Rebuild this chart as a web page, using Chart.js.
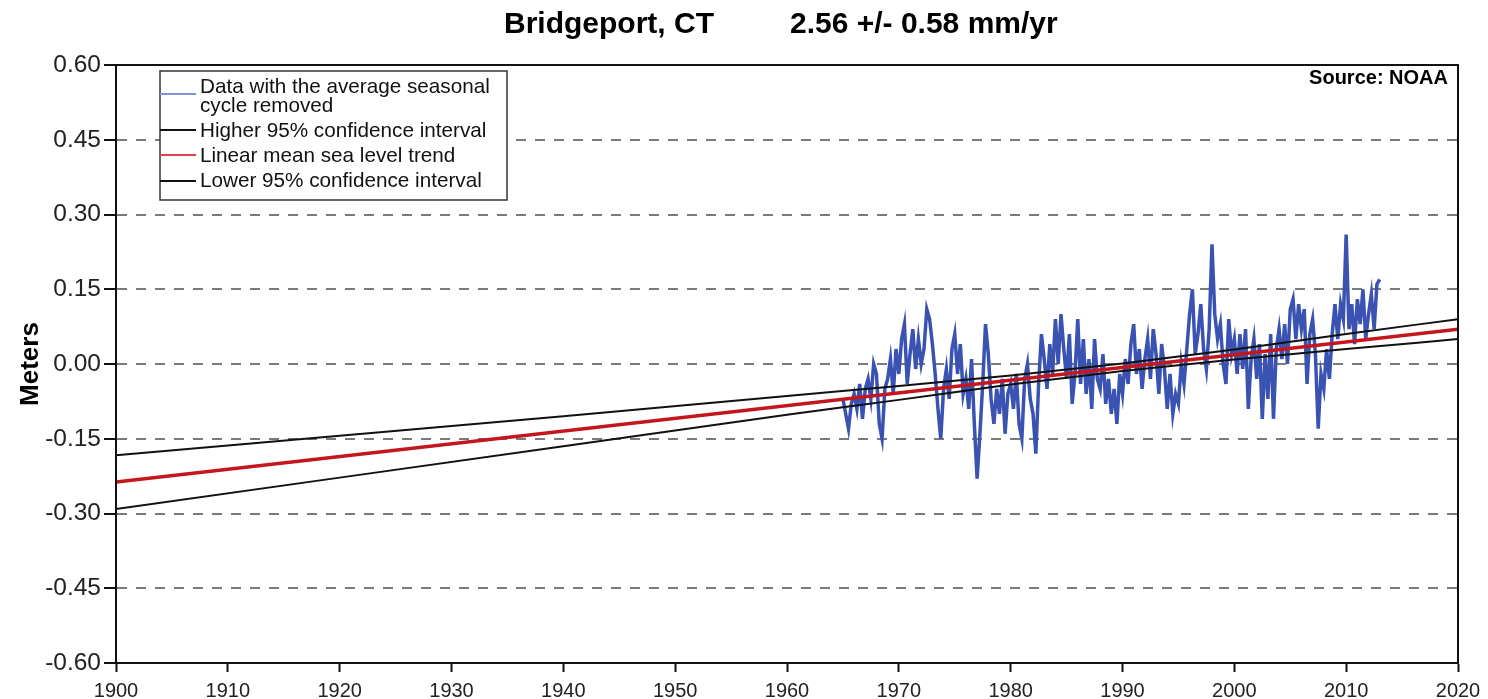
<!DOCTYPE html>
<html>
<head>
<meta charset="utf-8">
<script src="https://cdn.jsdelivr.net/npm/chart.js@4/dist/chart.umd.min.js"></script>
<style>
  html, body { margin: 0; padding: 0; background: #fff; }
  #chart { display: block; }
</style>
</head>
<body>
<canvas id="chart" width="1488" height="699"></canvas>
<script>
// monthly record thinned to quarterly readings, seasonal cycle removed (m)
const startYear = 1965;
const stepYear = 0.25;
const seaLevel = [
  -0.07, -0.10, -0.13, -0.08,   // 1965
  -0.06, -0.09, -0.04, -0.11,
  -0.05, -0.03, -0.07, 0.00,
  -0.02, -0.12, -0.15, -0.05,
  -0.03, 0.01, -0.06, 0.03,
  -0.02, 0.05, 0.08, -0.04,     // 1970
  0.02, 0.07, -0.01, 0.05,
  0.00, 0.03, 0.11, 0.09,
  0.04, -0.02, -0.09, -0.15,
  -0.05, -0.01, -0.07, 0.03,
  0.06, -0.02, 0.04, -0.06,     // 1975
  -0.03, -0.09, 0.01, -0.12,
  -0.23, -0.14, -0.04, 0.08,
  0.02, -0.07, -0.12, -0.05,
  -0.10, -0.03, -0.14, -0.06,
  -0.04, -0.09, -0.02, -0.12,   // 1980
  -0.15, -0.03, 0.00, -0.07,
  -0.10, -0.18, -0.04, 0.06,
  0.01, -0.05, 0.04, -0.02,
  0.09, 0.00, 0.10, 0.03,
  -0.03, 0.06, -0.08, -0.02,    // 1985
  0.09, -0.04, 0.05, -0.06,
  0.01, -0.09, 0.05, -0.03,
  -0.05, 0.02, -0.08, -0.03,
  -0.10, -0.05, -0.12, -0.02,
  -0.06, 0.01, -0.04, 0.04,     // 1990
  0.08, -0.02, 0.03, -0.05,
  0.01, 0.05, -0.03, 0.07,
  0.02, -0.06, 0.04, -0.01,
  -0.09, -0.02, -0.10, -0.06,
  -0.08, 0.00, -0.04, 0.03,     // 1995
  0.10, 0.15, 0.02, 0.06,
  0.12, 0.03, -0.01, 0.07,
  0.24, 0.10, 0.05, 0.08,
  0.00, -0.04, 0.09, 0.02,
  0.05, -0.02, 0.06, -0.01,     // 2000
  0.07, -0.09, 0.01, 0.05,
  -0.03, 0.04, -0.11, 0.02,
  -0.07, 0.06, -0.11, 0.03,
  0.07, 0.01, 0.08, 0.00,
  0.11, 0.13, 0.05, 0.12,       // 2005
  0.07, 0.11, -0.04, 0.06,
  0.09, 0.02, -0.13, -0.02,
  -0.05, 0.03, -0.03, 0.06,
  0.12, 0.05, 0.12, 0.09,
  0.26, 0.07, 0.12, 0.04,       // 2010
  0.13, 0.08, 0.15, 0.05,
  0.10, 0.14, 0.07, 0.16,
  0.17
];

const trendYears = [1900, 2020];
const trendMean = [-0.237, 0.070];

const ciYears = [1900, 1920, 1940, 1960, 1970, 1980, 1990, 2000, 2010, 2020];
const ciHigh = [-0.183, -0.144, -0.105, -0.064, -0.044, -0.023, 0.001, 0.029, 0.060, 0.090];
const ciLow = [-0.291, -0.228, -0.165, -0.102, -0.072, -0.041, -0.014, 0.009, 0.030, 0.050];

const xTicks = { min: 1900, max: 2020, step: 10 };
const yTicks = { min: -0.60, max: 0.60, step: 0.15 };

const titleLeft = 'Bridgeport, CT';
const titleRight = '2.56 +/- 0.58 mm/yr';
const sourceText = 'Source: NOAA';

const FONT = '"Liberation Sans", Arial, sans-serif';

function pairs(xs, ys) {
    return ys.map(function (v, i) { return { x: xs[i], y: v }; });
}

const dataPoints = seaLevel.map(function (v, i) {
    return { x: startYear + i * stepYear, y: v };
});

const legendItems = [
    { lines: ['Data with the average seasonal', 'cycle removed'], color: '#7f93d8', lineY: 94 },
    { lines: ['Higher 95% confidence interval'], color: '#111', lineY: 130 },
    { lines: ['Linear mean sea level trend'], color: '#d9454a', lineY: 155 },
    { lines: ['Lower 95% confidence interval'], color: '#111', lineY: 181 }
];

const decorPlugin = {
    id: 'decor',
    afterDraw(chart) {
        const ctx = chart.ctx;
        const area = chart.chartArea;
        ctx.save();

        // plot frame
        ctx.strokeStyle = '#111';
        ctx.lineWidth = 2;
        ctx.strokeRect(area.left, area.top, area.right - area.left, area.bottom - area.top);

        // title
        ctx.fillStyle = '#000';
        ctx.font = 'bold 30px ' + FONT;
        ctx.textBaseline = 'alphabetic';
        ctx.textAlign = 'left';
        ctx.fillText(titleLeft, 504, 33);
        ctx.fillText(titleRight, 790, 33);

        // source
        ctx.font = 'bold 20px ' + FONT;
        ctx.textAlign = 'right';
        ctx.fillText(sourceText, 1448, 84);

        // legend
        const box = { x: 160, y: 71, w: 347, h: 129 };
        ctx.fillStyle = '#fff';
        ctx.fillRect(box.x, box.y, box.w, box.h);
        ctx.strokeStyle = '#333';
        ctx.lineWidth = 1.5;
        ctx.strokeRect(box.x, box.y, box.w, box.h);

        ctx.font = '20.7px ' + FONT;
        ctx.textAlign = 'left';
        ctx.textBaseline = 'middle';
        const textY = [[87, 106], [131], [156], [181]];
        legendItems.forEach(function (item, i) {
            ctx.strokeStyle = item.color;
            ctx.lineWidth = 2;
            ctx.beginPath();
            ctx.moveTo(box.x, item.lineY);
            ctx.lineTo(box.x + 36, item.lineY);
            ctx.stroke();
            ctx.fillStyle = '#111';
            item.lines.forEach(function (t, j) {
                ctx.fillText(t, 200, textY[i][j]);
            });
        });
        ctx.restore();
    }
};

const config = {
    type: 'line',
    data: {
        datasets: [{
            label: 'Data with the average seasonal cycle removed',
            data: dataPoints,
            borderColor: '#3a53b2',
            borderWidth: 3.5,
            pointRadius: 0,
            tension: 0,
            order: 3
        },
        {
            label: 'Higher 95% confidence interval',
            data: pairs(ciYears, ciHigh),
            borderColor: '#111',
            borderWidth: 2,
            pointRadius: 0,
            tension: 0.4,
            cubicInterpolationMode: 'monotone',
            order: 1
        },
        {
            label: 'Linear mean sea level trend',
            data: pairs(trendYears, trendMean),
            borderColor: '#c4161c',
            borderWidth: 3.5,
            pointRadius: 0,
            tension: 0,
            order: 0
        },
        {
            label: 'Lower 95% confidence interval',
            data: pairs(ciYears, ciLow),
            borderColor: '#111',
            borderWidth: 2,
            pointRadius: 0,
            tension: 0.4,
            cubicInterpolationMode: 'monotone',
            order: 1
        }]
    },
    options: {
        responsive: false,
        animation: false,
        devicePixelRatio: 1,
        layout: {
            padding: { top: 65, right: 30, left: 15, bottom: 0 }
        },
        plugins: {
            legend: { display: false },
            title: { display: false },
            tooltip: { enabled: false }
        },
        scales: {
            x: {
                type: 'linear',
                min: xTicks.min,
                max: xTicks.max,
                afterFit: function (scale) { scale.height = 36; },
                ticks: {
                    stepSize: xTicks.step,
                    color: '#222',
                    font: { family: FONT, size: 20 },
                    padding: 7,
                    maxRotation: 0,
                    callback: function (val) { return String(val); }
                },
                grid: {
                    drawOnChartArea: false,
                    drawTicks: true,
                    tickLength: 9,
                    tickColor: '#111',
                    tickWidth: 2
                },
                border: { display: true, color: '#111', width: 2 }
            },
            y: {
                type: 'linear',
                min: yTicks.min,
                max: yTicks.max,
                afterFit: function (scale) { scale.width = 101; },
                ticks: {
                    stepSize: yTicks.step,
                    color: '#222',
                    font: { family: FONT, size: 24.5 },
                    padding: 3,
                    callback: function (val) {
                        if (Math.abs(val) < 1e-9) return '0.00';
                        return val.toFixed(2);
                    }
                },
                grid: {
                    drawOnChartArea: true,
                    drawTicks: true,
                    tickLength: 12,
                    color: '#7a7a7a',
                    lineWidth: 2,
                    tickColor: '#111',
                    tickWidth: 2,
                    tickBorderDash: [0, 0]
                },
                border: { display: true, color: '#111', width: 2, dash: [10, 9] },
                title: {
                    display: true,
                    text: 'Meters',
                    color: '#000',
                    font: { family: FONT, size: 26, weight: 'bold' },
                    padding: { top: 0, bottom: 0 }
                }
            }
        }
    },
    plugins: [decorPlugin]
};

const chart = new Chart(document.getElementById('chart'), config);
</script>
</body>
</html>
